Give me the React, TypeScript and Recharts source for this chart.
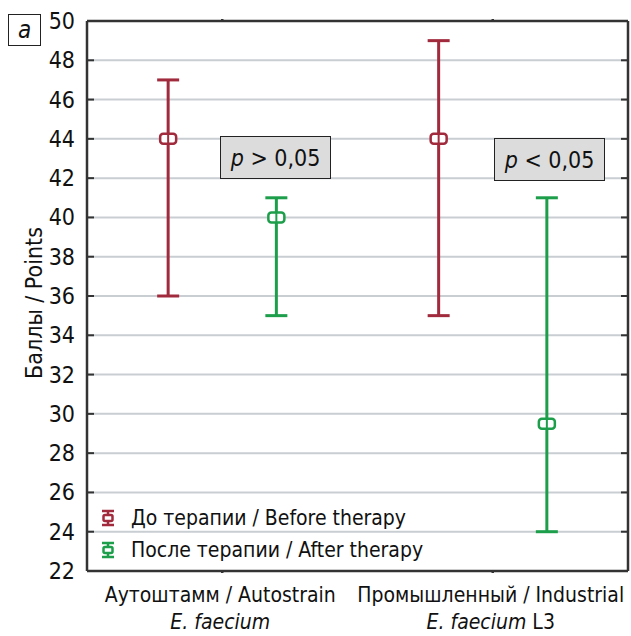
import React from 'react';
import {
  ScatterChart,
  Scatter,
  XAxis,
  YAxis,
  ReferenceLine,
  ErrorBar,
  Customized,
} from 'recharts';

const categories = ['Аутоштамм / Autostrain', 'Промышленный / Industrial'];
const species = ['E. faecium', 'E. faecium'];
const strainSuffix = ['', ' L3'];

const beforeMedian = [44, 44];
const beforeMin = [36, 35];
const beforeMax = [47, 49];

const afterMedian = [40, 29.5];
const afterMin = [35, 24];
const afterMax = [41, 41];

const seriesNames = ['До терапии / Before therapy', 'После терапии / After therapy'];
const pLabels = ['> 0,05', '< 0,05'];
const yTicks = [22, 24, 26, 28, 30, 32, 34, 36, 38, 40, 42, 44, 46, 48, 50];
const catTicks = [1, 3];

const RED = '#a12a3c';
const GREEN = '#1c9e4a';
const FRAME = '#333';
const GRID = '#c9ced3';
const FONT = "'DejaVu Sans Condensed', 'Liberation Sans Narrow', Roboto, sans-serif";

const build = (med: number[], lo: number[], hi: number[], shift: number) =>
  med.map((m, i) => ({ x: i * 2 + 1 + shift, y: m, err: [m - lo[i], hi[i] - m] }));

const beforeData = build(beforeMedian, beforeMin, beforeMax, -0.4);
const afterData = build(afterMedian, afterMin, afterMax, 0.4);

const marker = (color: string) => (props: any) => {
  const { cx, cy } = props;
  return (
    <g>
      <rect x={cx - 8} y={cy - 5} width={16} height={10} rx={3} fill="#fff" stroke={color} strokeWidth={2.5} />
      <line x1={cx} x2={cx} y1={cy - 5} y2={cy + 5} stroke={color} strokeWidth={2} />
    </g>
  );
};

const LeftTick = (props: any) => {
  const { x, y, payload } = props;
  return (
    <g>
      <line x1={x} x2={x + 7} y1={y} y2={y} stroke={FRAME} strokeWidth={2} />
      <text x={x - 12} y={y} dy={8} textAnchor="end" fontSize={23} fill="#111" fontFamily={FONT}>
        {payload.value}
      </text>
    </g>
  );
};

const RightTick = (props: any) => {
  const { x, y } = props;
  return <line x1={x - 7} x2={x} y1={y} y2={y} stroke={FRAME} strokeWidth={2} />;
};

const TopTick = (props: any) => {
  const { x, y } = props;
  return <line x1={x} x2={x} y1={y} y2={y + 3} stroke={FRAME} strokeWidth={2.5} />;
};

const BottomTick = (props: any) => {
  const { x, y, payload } = props;
  const i = catTicks.indexOf(payload.value);
  return (
    <g>
      <line x1={x} x2={x} y1={y - 3} y2={y} stroke={FRAME} strokeWidth={2.5} />
      <text x={x - 2} y={y + 29} textAnchor="middle" fontSize={21} fill="#111" fontFamily={FONT}>
        {categories[i]}
      </text>
      <text x={x - 2} y={y + 56} textAnchor="middle" fontSize={21} fill="#111" fontFamily={FONT}>
        <tspan fontStyle="italic">{species[i]}</tspan>
        {strainSuffix[i]}
      </text>
    </g>
  );
};

const LegendIcon = ({ color }: { color: string }) => (
  <svg width={14} height={18} style={{ marginRight: 16 }}>
    <line x1={1} x2={13} y1={2} y2={2} stroke={color} strokeWidth={2.5} />
    <line x1={1} x2={13} y1={16} y2={16} stroke={color} strokeWidth={2.5} />
    <line x1={7} x2={7} y1={2} y2={16} stroke={color} strokeWidth={2.5} />
    <rect x={2.5} y={6} width={9} height={6} rx={1.5} fill="#fff" stroke={color} strokeWidth={2.5} />
  </svg>
);

const pBox = (left: number, top: number, text: string) => (
  <div
    key={text}
    style={{
      position: 'absolute',
      left,
      top,
      width: 111,
      height: 43,
      boxSizing: 'border-box',
      border: '1.5px solid #222',
      background: '#dcdcdc',
      fontFamily: FONT,
      fontSize: 23,
      display: 'flex',
      alignItems: 'center',
      justifyContent: 'center',
      color: '#111',
    }}
  >
    <i>p</i>&nbsp;{text}
  </div>
);

const YLabel = () => (
  <text
    x={0}
    y={0}
    transform="translate(42, 303) rotate(-90)"
    textAnchor="middle"
    fontSize={23}
    fill="#111"
    fontFamily={FONT}
  >
    Баллы / Points
  </text>
);

const hidden = () => <g />;

export default function App() {
  return (
    <div style={{ position: 'absolute', left: 0, top: 0, width: 631, height: 636, background: '#fff' }}>
      <ScatterChart width={631} height={636} margin={{ top: 20, right: 2, bottom: 0, left: 0 }}>
        <XAxis
          type="number"
          dataKey="x"
          domain={[0, 4]}
          ticks={catTicks}
          height={65}
          axisLine={{ stroke: FRAME, strokeWidth: 2.5 }}
          tickLine={false}
          tickSize={0}
          tick={<BottomTick />}
          interval={0}
        />
        <XAxis
          xAxisId="t"
          orientation="top"
          type="number"
          dataKey="x"
          domain={[0, 4]}
          ticks={catTicks}
          height={1}
          axisLine={{ stroke: FRAME, strokeWidth: 2.5 }}
          tickLine={false}
          tickSize={0}
          tick={<TopTick />}
          interval={0}
        />
        <YAxis
          type="number"
          dataKey="y"
          domain={[22, 50]}
          ticks={yTicks}
          width={87}
          axisLine={{ stroke: FRAME, strokeWidth: 2.5 }}
          tickLine={false}
          tickSize={0}
          tickMargin={0}
          tick={<LeftTick />}
          interval={0}
        />
        <YAxis
          yAxisId="r"
          orientation="right"
          type="number"
          dataKey="y"
          domain={[22, 50]}
          ticks={yTicks}
          width={1}
          axisLine={{ stroke: FRAME, strokeWidth: 2.5 }}
          tickLine={false}
          tickSize={0}
          tickMargin={0}
          tick={<RightTick />}
          interval={0}
        />
        {yTicks.slice(1, -1).map((v) => (
          <ReferenceLine key={v} y={v} stroke={GRID} strokeWidth={2} />
        ))}
        <Scatter
          name="frame"
          data={beforeData}
          xAxisId="t"
          yAxisId="r"
          shape={hidden}
          legendType="none"
          isAnimationActive={false}
        />
        <Scatter
          name={seriesNames[0]}
          data={beforeData}
          shape={marker(RED)}
          isAnimationActive={false}
        >
          <ErrorBar dataKey="err" direction="y" width={11} stroke={RED} strokeWidth={3} />
        </Scatter>
        <Scatter
          name={seriesNames[1]}
          data={afterData}
          shape={marker(GREEN)}
          isAnimationActive={false}
        >
          <ErrorBar dataKey="err" direction="y" width={11} stroke={GREEN} strokeWidth={3} />
        </Scatter>
        <Customized component={YLabel} />
      </ScatterChart>
      {pBox(220, 136, pLabels[0])}
      {pBox(494, 138, pLabels[1])}
      <div
        style={{
          position: 'absolute',
          left: 101,
          top: 502,
          fontFamily: FONT,
          fontSize: 21,
          color: '#111',
        }}
      >
        {[RED, GREEN].map((c, i) => (
          <div key={c} style={{ display: 'flex', alignItems: 'center', height: 32 }}>
            <LegendIcon color={c} />
            <span>{seriesNames[i]}</span>
          </div>
        ))}
      </div>
      <div
        style={{
          position: 'absolute',
          left: 8,
          top: 14,
          width: 33,
          height: 32,
          boxSizing: 'border-box',
          border: '1.5px solid #222',
          display: 'flex',
          alignItems: 'center',
          justifyContent: 'center',
          fontFamily: FONT,
          fontStyle: 'italic',
          fontSize: 24,
          color: '#111',
        }}
      >
        a
      </div>
    </div>
  );
}
